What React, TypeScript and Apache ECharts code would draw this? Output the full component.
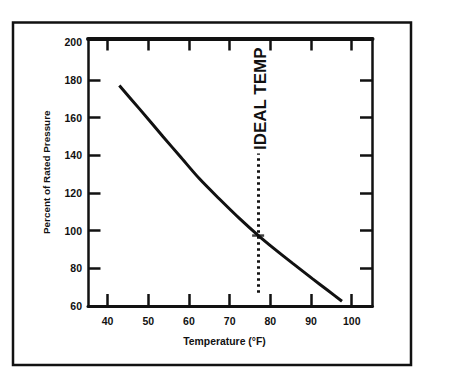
import React, { useEffect, useRef } from "react";
import * as echarts from "echarts";

const temperatures = [42.9, 47.9, 53.6, 57.8, 62.6, 67.5, 72.4, 77, 81, 85.5, 90.4, 94, 97.6];
const pressures = [177, 164.5, 150, 139.5, 127.5, 116.8, 106.5, 97.5, 90.3, 82.6, 74.4, 68.5, 62.5];
const xTicks = [40, 50, 60, 70, 80, 90, 100];
const yLabels = [60, 80, 100, 120, 140, 160, 180, 200];
const yTicks = [80, 100, 120, 140, 160, 180];
const idealTemp = 77;
const idealLineRange = [67, 141];
const idealPoint = [77, 97.4];
const idealLabelValue = 170;

const INK = "#111";
const FONT = '"Liberation Sans", Arial, sans-serif';

export default function App() {
  const ref = useRef<HTMLDivElement>(null);
  useEffect(() => {
    if (!ref.current) return;
    const chart = echarts.init(ref.current, null, { renderer: "svg" });
    const xMin = 35.2;
    const xMax = 105.1;
    const yMin = 60;
    const yMax = 202;
    const option: any = {
      animation: false,
      backgroundColor: "#fff",
      grid: { left: 88, right: 99.5, top: 38.5, bottom: 72 },
      xAxis: [
        {
          type: "value",
          position: "bottom",
          min: xMin,
          max: xMax,
          name: "Temperature (°F)",
          nameLocation: "middle",
          nameGap: 30.5,
          nameTextStyle: { color: INK, fontFamily: FONT, fontWeight: "bold", fontSize: 10.4, padding: [0, 11.5, 0, 0] },
          axisLine: { show: true, lineStyle: { color: INK, width: 3 } },
          axisTick: { show: true, inside: true, length: 12, lineStyle: { color: INK, width: 2.5 }, customValues: xTicks },
          axisLabel: { show: true, margin: 9, color: INK, fontFamily: FONT, fontWeight: "bold", fontSize: 10.5, customValues: xTicks },
          splitLine: { show: false },
        },
        {
          type: "value",
          position: "top",
          min: xMin,
          max: xMax,
          axisLine: { show: true, lineStyle: { color: INK, width: 4 } },
          axisTick: { show: true, inside: true, length: 12, lineStyle: { color: INK, width: 2.5 }, customValues: xTicks },
          axisLabel: { show: false },
          splitLine: { show: false },
        },
      ],
      yAxis: [
        {
          type: "value",
          position: "left",
          min: yMin,
          max: yMax,
          name: "Percent of Rated Pressure",
          nameLocation: "middle",
          nameGap: 37,
          nameTextStyle: { color: INK, fontFamily: FONT, fontWeight: "bold", fontSize: 9.9 },
          axisLine: { show: true, lineStyle: { color: INK, width: 2.5 } },
          axisTick: { show: true, inside: true, length: 12.5, lineStyle: { color: INK, width: 2.5 }, customValues: yTicks },
          axisLabel: { show: true, margin: 6, color: INK, fontFamily: FONT, fontWeight: "bold", fontSize: 10.5, customValues: yLabels },
          splitLine: { show: false },
        },
        {
          type: "value",
          position: "right",
          min: yMin,
          max: yMax,
          axisLine: { show: true, lineStyle: { color: INK, width: 2.5 } },
          axisTick: { show: true, inside: true, length: 12.5, lineStyle: { color: INK, width: 2.5 }, customValues: yTicks },
          axisLabel: { show: false },
          splitLine: { show: false },
        },
      ],
      series: [
        {
          type: "line",
          xAxisIndex: 0,
          yAxisIndex: 0,
          data: temperatures.map((t, i) => [t, pressures[i]]),
          smooth: 0.3,
          showSymbol: false,
          symbol: "none",
          silent: true,
          lineStyle: { color: INK, width: 3 },
          markLine: {
            silent: true,
            symbol: ["none", "none"],
            label: { show: false },
            lineStyle: { color: INK, width: 3, type: [2.5, 3.5] },
            data: [[{ coord: [idealTemp, idealLineRange[0]] }, { coord: [idealTemp, idealLineRange[1]] }]],
          },
        },
        {
          type: "scatter",
          xAxisIndex: 0,
          yAxisIndex: 0,
          data: [idealPoint],
          symbol: "rect",
          symbolSize: [12, 2.5],
          silent: true,
          itemStyle: { color: INK },
          z: 5,
        },
      ],
    };
    chart.setOption(option);
    const p = chart.convertToPixel({ xAxisIndex: 0, yAxisIndex: 0 }, [idealTemp, idealLabelValue]) as number[];
    chart.setOption({
      graphic: [
        {
          type: "rect",
          silent: true,
          shape: { x: 13, y: 22.5, width: 398, height: 342.5 },
          style: { fill: "none", stroke: INK, lineWidth: 2.5 },
        },
        {
          type: "text",
          silent: true,
          x: p[0] + 2.5,
          y: p[1],
          rotation: Math.PI / 2,
          style: {
            text: "IDEAL TEMP",
            font: 'bold 17px "Liberation Sans", Arial, sans-serif',
            fill: INK,
            align: "center",
            verticalAlign: "middle",
          },
        },
      ],
    });
    return () => chart.dispose();
  }, []);
  return <div ref={ref} style={{ width: 472, height: 378, position: "absolute", left: 0, top: 0, background: "#fff" }} />;
}
